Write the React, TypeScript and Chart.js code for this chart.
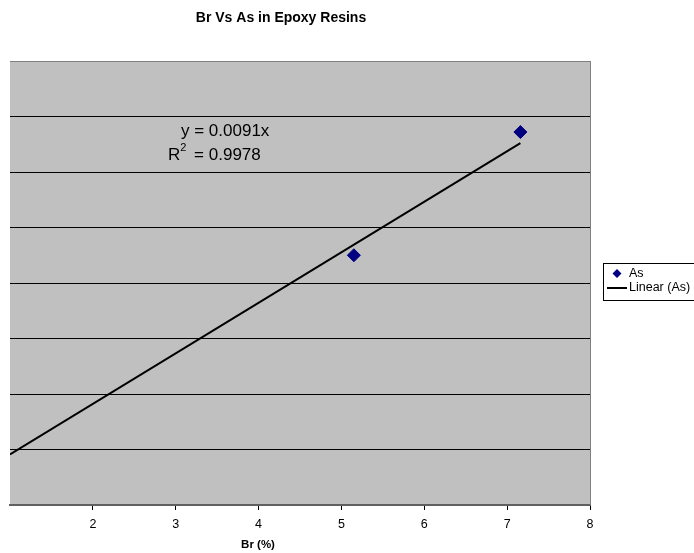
import React, { useEffect, useRef } from 'react';
import { Chart, registerables } from 'chart.js';

Chart.register(...registerables);

const chartTitle = 'Br Vs As in Epoxy Resins';
const xAxisTitle = 'Br (%)';
const brValues = [5.15, 7.16];
const asValues = [0.045, 0.0672];
const trendBr = [1, 7.16];
const trendAs = [0.0091, 0.0652];
const equationText = 'y = 0.0091x';
const rSquaredText = ' = 0.9978';
const seriesName = 'As';
const trendName = 'Linear (As)';
const FONT = '"Liberation Sans", Arial, Helvetica, sans-serif';

const decorPlugin = {
  id: 'decor',
  beforeDraw(chart: any) {
    const { ctx, chartArea: a } = chart;
    ctx.save();
    ctx.fillStyle = '#ffffff';
    ctx.fillRect(0, 0, chart.width, chart.height);
    ctx.fillStyle = '#c0c0c0';
    ctx.fillRect(a.left, a.top, a.right - a.left, a.bottom - a.top);
    ctx.restore();
  },
  beforeDatasetsDraw(chart: any) {
    const { ctx, chartArea: a } = chart;
    ctx.save();
    ctx.strokeStyle = '#808080';
    ctx.lineWidth = 1;
    ctx.beginPath();
    ctx.moveTo(a.right + 0.5, a.top);
    ctx.lineTo(a.right + 0.5, a.bottom);
    ctx.stroke();
    ctx.restore();
  },
  afterDraw(chart: any) {
    const { ctx } = chart;
    ctx.save();
    ctx.fillStyle = '#000';
    ctx.textBaseline = 'middle';
    // title
    ctx.font = `bold 14px ${FONT}`;
    ctx.textAlign = 'center';
    ctx.fillText(chartTitle, 281, 18);
    // axis title
    ctx.font = `bold 11.5px ${FONT}`;
    ctx.fillText(xAxisTitle, 258, 545);
    // equation
    ctx.textAlign = 'left';
    ctx.font = `17px ${FONT}`;
    ctx.fillText(equationText, 181, 131);
    ctx.fillText('R', 168, 155);
    const rw = ctx.measureText('R').width;
    ctx.font = `11px ${FONT}`;
    ctx.fillText('2', 168 + rw, 148);
    const sw = ctx.measureText('2').width;
    ctx.font = `17px ${FONT}`;
    ctx.fillText(rSquaredText, 168 + rw + sw + 3, 155);
    // legend
    const lx = 603.5, ly = 263.5;
    ctx.fillStyle = '#ffffff';
    ctx.fillRect(lx, ly, 100, 37);
    ctx.strokeStyle = '#000';
    ctx.lineWidth = 1;
    ctx.strokeRect(lx, ly, 100, 37);
    ctx.fillStyle = '#000080';
    ctx.beginPath();
    ctx.moveTo(617, 269);
    ctx.lineTo(621.5, 273.5);
    ctx.lineTo(617, 278);
    ctx.lineTo(612.5, 273.5);
    ctx.closePath();
    ctx.fill();
    ctx.strokeStyle = '#000';
    ctx.lineWidth = 2;
    ctx.beginPath();
    ctx.moveTo(607, 288);
    ctx.lineTo(627, 288);
    ctx.stroke();
    ctx.fillStyle = '#000';
    ctx.font = `12.5px ${FONT}`;
    ctx.fillText(seriesName, 629, 274);
    ctx.fillText(trendName, 629, 288);
    ctx.restore();
  },
};

export default function App() {
  const ref = useRef<HTMLCanvasElement>(null);
  useEffect(() => {
    document.body.style.margin = '0';
    const chart = new Chart(ref.current as HTMLCanvasElement, {
      type: 'scatter',
      data: {
        datasets: [
          {
            label: seriesName,
            data: brValues.map((x, i) => ({ x, y: asValues[i] })),
            pointStyle: 'rectRot',
            pointRadius: 6.5,
            pointBackgroundColor: '#000080',
            pointBorderColor: '#000080',
            pointBorderWidth: 1,
            order: 0,
          },
          {
            type: 'line',
            label: trendName,
            data: trendBr.map((x, i) => ({ x, y: trendAs[i] })),
            borderColor: '#000000',
            borderWidth: 2,
            pointRadius: 0,
            showLine: true,
            fill: false,
            order: 1,
          } as any,
        ],
      },
      options: {
        animation: false,
        responsive: false,
        events: [],
        layout: { padding: { left: 10, right: 104, top: 61, bottom: 0 } },
        plugins: {
          legend: { display: false },
          tooltip: { enabled: false },
          title: { display: false },
        },
        scales: {
          x: {
            type: 'linear',
            min: 1,
            max: 8,
            ticks: {
              stepSize: 1,
              color: '#000',
              padding: 7,
              font: { family: FONT, size: 12.5 },
              callback: (v: any) => (v === 1 ? '' : String(v)),
            },
            grid: {
              drawOnChartArea: false,
              drawTicks: true,
              tickLength: 5,
              color: (c: any) => (c.tick && c.tick.value === 1 ? 'rgba(0,0,0,0)' : '#000'),
            },
            border: { display: true, color: '#606060', width: 2 },
            afterFit: (s: any) => {
              s.height = 48;
            },
          },
          y: {
            type: 'linear',
            min: 0,
            max: 0.08,
            ticks: { display: false, stepSize: 0.01 },
            grid: {
              drawTicks: false,
              color: (c: any) => {
                const v = c.tick ? c.tick.value : 0;
                if (v <= 0.0001) return 'rgba(0,0,0,0)';
                if (v >= 0.0799) return '#808080';
                return '#000';
              },
              lineWidth: 1,
            },
            border: { display: false },
            afterFit: (s: any) => {
              s.width = 0;
            },
          },
        },
      },
      plugins: [decorPlugin],
    });
    return () => chart.destroy();
  }, []);
  return (
    <div style={{ position: 'absolute', left: 0, top: 0, width: 694, height: 553 }}>
      <canvas ref={ref} width={694} height={553} style={{ width: 694, height: 553, display: 'block' }} />
    </div>
  );
}
